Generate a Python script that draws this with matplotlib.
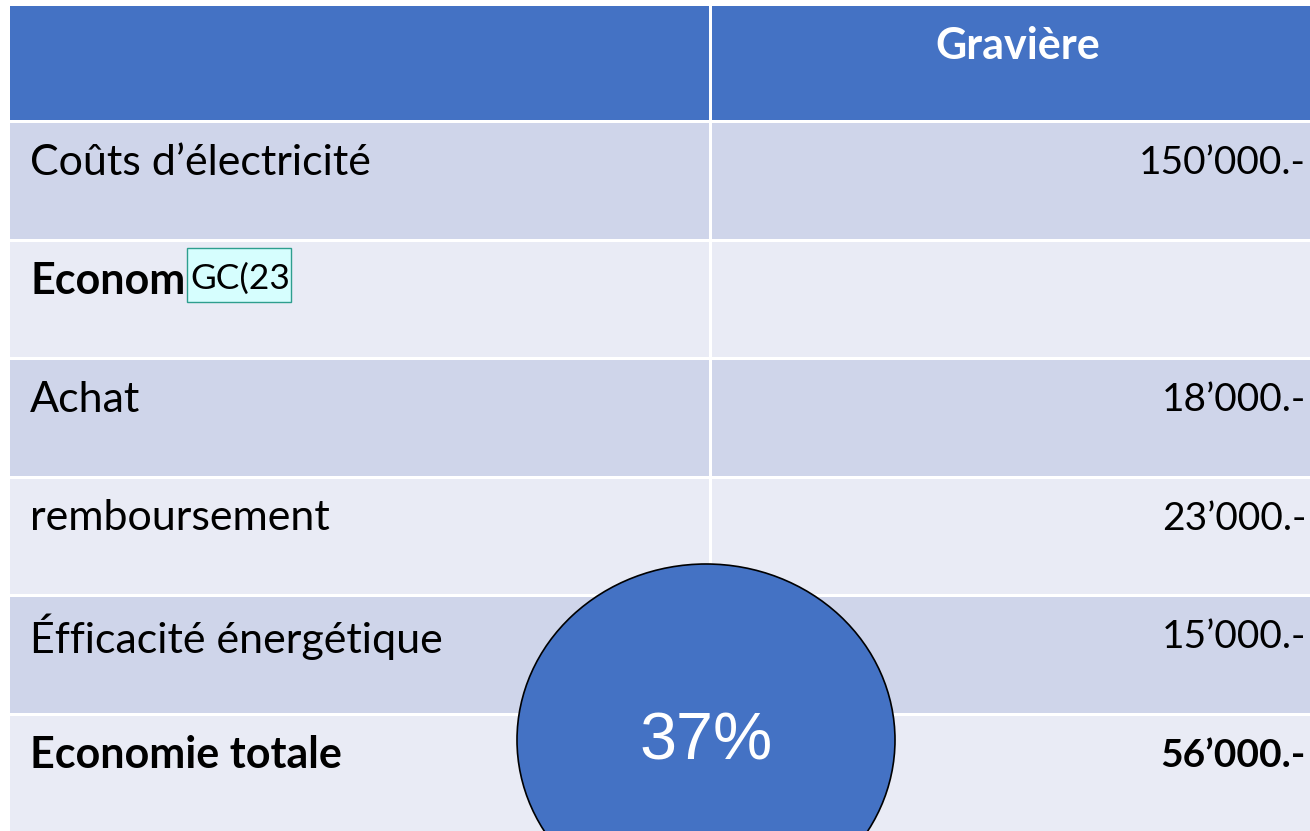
import matplotlib
matplotlib.use("Agg")
import matplotlib.pyplot as plt
from matplotlib.patches import Rectangle, Ellipse

header = "Gravière"
labels = ["Coûts d’électricité", "Econom", "Achat", "remboursement",
          "Éfficacité énergétique", "Economie totale"]
values = ["150’000.-", "", "18’000.-", "23’000.-", "15’000.-", "56’000.-"]
bold = [False, True, False, False, False, True]
comment = "GC(23"
badge = "37%"

W, H = 1310, 831
fig = plt.figure(figsize=(W / 100, H / 100), dpi=100)
ax = fig.add_axes([0, 0, 1, 1])
ax.set_xlim(0, W)
ax.set_ylim(H, 0)
ax.axis("off")

HEAD_BLUE = "#4472C4"
ROW_A = "#CFD5EA"
ROW_B = "#E9EBF5"
FONT = "Lato"

x0, xdiv, x1 = 10, 710, 1312
gap = 3
top = 6
head_h = 114
row_h = 118.5

# header
ax.add_patch(Rectangle((x0, top), xdiv - x0 - gap / 2, head_h, color=HEAD_BLUE, lw=0))
ax.add_patch(Rectangle((xdiv + gap / 2, top), x1 - xdiv, head_h, color=HEAD_BLUE, lw=0))
ax.text(1018, top + 40, header, color="white", fontsize=31,
        fontweight="bold", family=FONT, ha="center", va="center")

for i, (lab, val, b) in enumerate(zip(labels, values, bold)):
    y = top + head_h + gap + i * row_h
    c = ROW_A if i % 2 == 0 else ROW_B
    ax.add_patch(Rectangle((x0, y), xdiv - x0 - gap / 2, row_h - gap, color=c, lw=0))
    ax.add_patch(Rectangle((xdiv + gap / 2, y), x1 - xdiv, row_h - gap, color=c, lw=0))
    ty = y + 40
    ax.text(30, ty, lab, fontsize=31, family=FONT,
            fontweight="bold" if b else "normal", ha="left", va="center")
    if val:
        ax.text(1306, ty, val, fontsize=28, family=FONT,
                fontweight="bold" if b else "normal", ha="right", va="center")

# comment marker
cy = top + head_h + gap + row_h
ax.add_patch(Rectangle((187, cy + 6), 104, 54, fc="#D6FEFE", ec="#2E9E8E", lw=1, zorder=3))
ax.text(190, cy + 37, comment, fontsize=25.5, family=FONT,
        ha="left", va="center", color="black", zorder=4)

# badge ellipse
ax.add_patch(Ellipse((706, 740), 378, 352, fc=HEAD_BLUE, ec="black", lw=1.2, zorder=5))
ax.text(706, 743, badge, color="white", fontsize=48, family="Liberation Sans",
        ha="center", va="center", zorder=6)

fig.savefig("out.png", dpi=100, facecolor="white")
